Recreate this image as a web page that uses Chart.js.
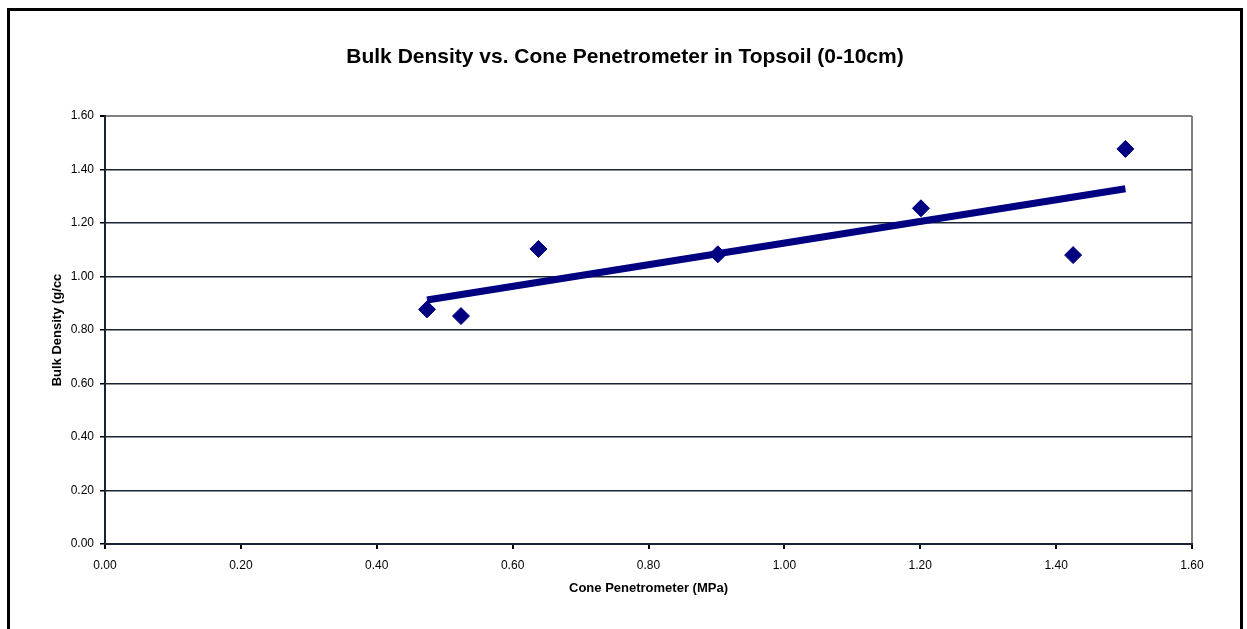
<!DOCTYPE html>
<html>
<head>
<meta charset="utf-8">
<script src="https://cdn.jsdelivr.net/npm/chart.js@4.4.1/dist/chart.umd.min.js"></script>
<style>
  html, body { margin: 0; padding: 0; background: #fff; }
  canvas { display: block; }
</style>
</head>
<body>
<canvas id="chart" width="1247" height="629"></canvas>
<script>
// Cone penetrometer (MPa) vs bulk density (g/cc)
const penetrometer = [0.474, 0.524, 0.638, 0.902, 1.201, 1.425, 1.502];
const bulkDensity = [0.877, 0.852, 1.103, 1.083, 1.255, 1.080, 1.477];
// linear trendline endpoints as drawn
const trendX = [0.474, 1.502];
const trendY = [0.912, 1.328];

const navy = '#000080';
const dark = '#1a2433';
const isTop = (v) => Math.abs(v - 1.6) < 1e-6;

Chart.defaults.font.family = '"Liberation Sans", Arial, sans-serif';
Chart.defaults.font.size = 12;
Chart.defaults.color = '#000';

const frame = {
  id: 'frame',
  beforeDraw(chart) {
    const ctx = chart.ctx;
    ctx.save();
    ctx.fillStyle = '#fff';
    ctx.fillRect(0, 0, chart.width, chart.height);
    ctx.restore();
  },
  afterDraw(chart) {
    const ctx = chart.ctx;
    ctx.save();
    ctx.strokeStyle = '#000';
    ctx.lineWidth = 3;
    ctx.strokeRect(8.5, 9.5, 1233, 700);
    ctx.restore();
  }
};

new Chart(document.getElementById('chart'), {
  type: 'scatter',
  data: {
    datasets: [{
      type: 'line',
      data: trendX.map((x, i) => ({ x, y: trendY[i] })),
      borderColor: navy,
      borderWidth: 7,
      pointRadius: 0,
      fill: false
    }, {
      data: penetrometer.map((x, i) => ({ x, y: bulkDensity[i] })),
      pointStyle: 'rectRot',
      pointRadius: 8.5,
      backgroundColor: navy,
      borderColor: navy,
      borderWidth: 1
    }]
  },
  options: {
    responsive: false,
    animation: false,
    devicePixelRatio: 1,
    layout: { padding: { left: 3, right: 0, top: 0, bottom: 0 } },
    plugins: {
      legend: { display: false },
      tooltip: { enabled: false },
      title: {
        display: true,
        text: 'Bulk Density vs. Cone Penetrometer in Topsoil (0-10cm)',
        font: { size: 21, weight: 'bold' },
        color: '#000',
        padding: { top: 44.4, bottom: 46.4 }
      }
    },
    scales: {
      x: {
        type: 'linear',
        min: 0,
        max: 1.6,
        ticks: { stepSize: 0.2, padding: 9, callback: (v) => v.toFixed(2) },
        grid: {
          color: (c) => (c.tick && isTop(c.tick.value)) ? '#808080' : 'rgba(0,0,0,0)',
          lineWidth: 2,
          tickColor: '#000',
          tickLength: 5
        },
        border: { color: dark, width: 2 },
        title: {
          display: true,
          text: 'Cone Penetrometer (MPa)',
          font: { size: 13, weight: 'bold' },
          padding: { top: 0, bottom: 33.2 }
        },
        afterFit: (s) => { s.height = 85; }
      },
      y: {
        type: 'linear',
        min: 0,
        max: 1.6,
        ticks: { stepSize: 0.2, padding: 6, callback: (v) => v.toFixed(2) },
        grid: {
          color: (c) => (c.tick && isTop(c.tick.value)) ? '#808080' : dark,
          lineWidth: (c) => (c.tick && isTop(c.tick.value)) ? 2 : 1.5,
          tickColor: '#000',
          tickLength: 5
        },
        border: { color: dark, width: 2 },
        title: {
          display: true,
          text: 'Bulk Density (g/cc',
          font: { size: 13, weight: 'bold' },
          padding: { top: 46.2, bottom: 0 }
        },
        afterFit: (s) => { s.width = 102; }
      },
      yRight: {
        type: 'linear',
        position: 'right',
        min: 0,
        max: 1.6,
        ticks: { display: false },
        grid: { display: false },
        border: { display: false },
        afterFit: (s) => { s.width = 55; }
      }
    }
  },
  plugins: [frame]
});
</script>
</body>
</html>
